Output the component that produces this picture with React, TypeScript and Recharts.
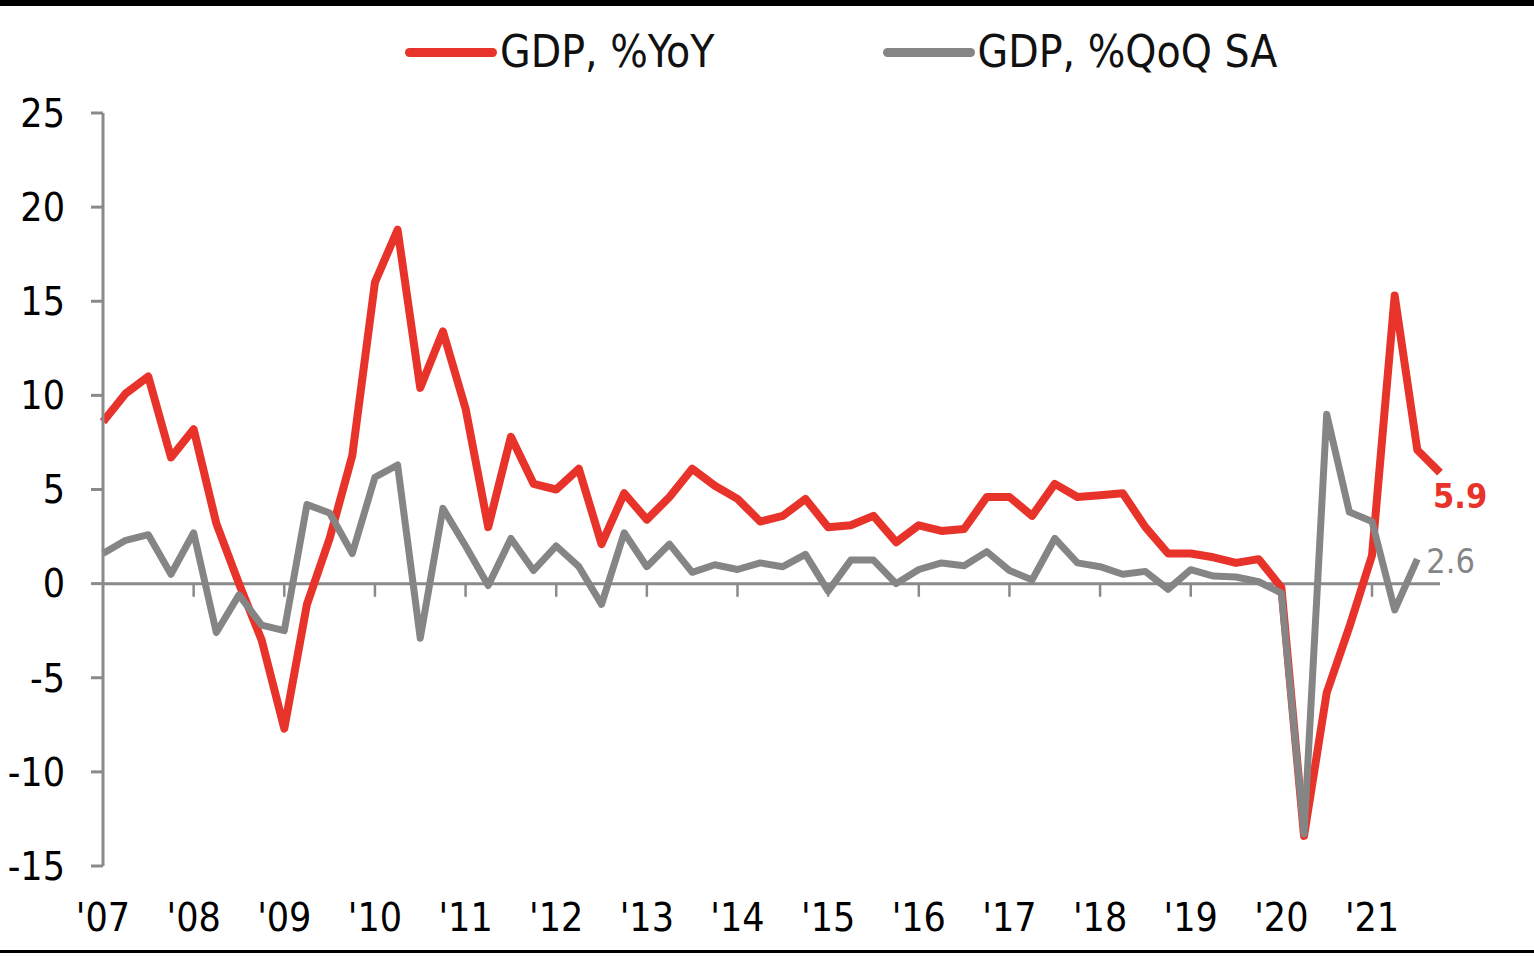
import { Line, LineChart, ReferenceLine, XAxis, YAxis } from 'recharts';

// quarterly GDP, 2007Q1 .. 2021Q4
const YEARS = ['07', '08', '09', '10', '11', '12', '13', '14', '15', '16', '17', '18', '19', '20', '21'];
const QUARTERS = YEARS.flatMap((y) => ['Q1', 'Q2', 'Q3', 'Q4'].map((q) => `${q}-${y}`));

const GDP_YOY = [
  8.6, 10.1, 11.0, 6.7, 8.2, 3.2, 0.0, -3.0, -7.7, -1.1, 2.4, 6.8, 16.0, 18.8, 10.4, 13.4,
  9.3, 3.0, 7.8, 5.3, 5.0, 6.1, 2.1, 4.8, 3.4, 4.6, 6.1, 5.2, 4.5, 3.3, 3.6, 4.5,
  3.0, 3.1, 3.6, 2.2, 3.1, 2.8, 2.9, 4.6, 4.6, 3.6, 5.3, 4.6, 4.7, 4.8, 3.0, 1.6,
  1.6, 1.4, 1.1, 1.3, -0.2, -13.4, -5.8, -2.3, 1.5, 15.3, 7.1, 5.9,
];
const GDP_QOQ: (number | null)[] = [
  1.6, 2.3, 2.6, 0.5, 2.7, -2.6, -0.6, -2.2, -2.5, 4.2, 3.75, 1.6, 5.65, 6.3, -2.9, 4.0,
  2.0, -0.1, 2.4, 0.7, 2.0, 0.9, -1.1, 2.7, 0.9, 2.1, 0.6, 1.0, 0.75, 1.1, 0.9, 1.55,
  -0.4, 1.25, 1.25, 0.0, 0.75, 1.1, 0.95, 1.7, 0.7, 0.2, 2.4, 1.1, 0.9, 0.5, 0.65, -0.3,
  0.74, 0.4, 0.35, 0.1, -0.5, -13.3, 9.0, 3.8, 3.3, -1.4, 1.3, null,
];

const Y_TICKS = [-15, -10, -5, 0, 5, 10, 15, 20, 25];
const YEAR_TICKS = YEARS.map((y) => `Q1-${y}`);
const END_LABEL_YOY = '5.9';
const END_LABEL_QOQ = '2.6';

const RED = '#e8332a';
const GREY = '#858585';
const AXIS = '#8a8a8a';
const FONT = "'DejaVu Sans Condensed', 'Open Sans', sans-serif";

const data = QUARTERS.map((q, i) => ({ q, yoy: GDP_YOY[i], qoq: GDP_QOQ[i] }));
const lastYoy = GDP_YOY.length - 1;
const lastQoq = GDP_QOQ.reduce<number>((acc, v, i) => (v == null ? acc : i), 0);

function LegendItem({ color, text }: { color: string; text: string }) {
  return (
    <div style={{ display: 'flex', alignItems: 'center' }}>
      <div style={{ width: 92, height: 9, borderRadius: 5, background: color }} />
      <span style={{ fontSize: 44, color: '#111', lineHeight: 1, marginLeft: 3 }}>{text}</span>
    </div>
  );
}

export default function App() {
  return (
    <div
      style={{
        position: 'absolute',
        left: 0,
        top: 0,
        width: 1534,
        height: 956,
        background: '#fff',
        fontFamily: FONT,
        overflow: 'hidden',
      }}
    >
      <div style={{ position: 'absolute', left: 0, top: 0, width: 1534, height: 6, background: '#000' }} />
      <div style={{ position: 'absolute', left: 0, top: 950, width: 1534, height: 3, background: '#000' }} />
      <div style={{ position: 'absolute', left: 405, top: 30, display: 'flex', gap: 168 }}>
        <LegendItem color={RED} text="GDP, %YoY" />
        <LegendItem color={GREY} text="GDP, %QoQ SA" />
      </div>
      <LineChart
        width={1534}
        height={956}
        data={data}
        margin={{ top: 113, right: 94, left: 0, bottom: 30 }}
      >
        <XAxis
          dataKey="q"
          ticks={YEAR_TICKS}
          interval={0}
          tickFormatter={(v: string) => `'${v.slice(3)}`}
          axisLine={false}
          tickLine={false}
          tickSize={0}
          tickMargin={37}
          height={60}
          tick={{ fill: '#000', fontSize: 39, fontFamily: FONT }}
        />
        <YAxis
          domain={[-15, 25]}
          ticks={Y_TICKS}
          width={103}
          axisLine={{ stroke: AXIS, strokeWidth: 3 }}
          tickLine={{ stroke: AXIS, strokeWidth: 3 }}
          tickSize={12}
          tickMargin={26}
          tick={{ fill: '#000', fontSize: 39, fontFamily: FONT }}
        />
        <ReferenceLine y={0} stroke={AXIS} strokeWidth={3} />
        {YEAR_TICKS.slice(1).map((t) => (
          <ReferenceLine
            key={t}
            segment={[
              { x: t, y: 0 },
              { x: t, y: -0.7 },
            ]}
            stroke={AXIS}
            strokeWidth={2.5}
          />
        ))}
        <Line
          dataKey="yoy"
          type="linear"
          stroke={RED}
          strokeWidth={8}
          strokeLinejoin="round"
          dot={false}
          isAnimationActive={false}
          label={(p: any) =>
            p.index === lastYoy ? (
              <text
                key="lbl-yoy"
                x={p.x - 7}
                y={p.y + 23}
                dy="0.36em"
                fill={RED}
                fontSize={34}
                fontWeight="bold"
                fontFamily={FONT}
              >
                {END_LABEL_YOY}
              </text>
            ) : (
              <g key={`e${p.index}`} />
            )
          }
        />
        <Line
          dataKey="qoq"
          type="linear"
          stroke={GREY}
          strokeWidth={7}
          strokeLinejoin="round"
          dot={false}
          connectNulls={false}
          isAnimationActive={false}
          label={(p: any) =>
            p.index === lastQoq ? (
              <text
                key="lbl-qoq"
                x={p.x + 9}
                y={p.y + 2}
                dy="0.36em"
                fill={GREY}
                fontSize={34}
                fontFamily={FONT}
              >
                {END_LABEL_QOQ}
              </text>
            ) : (
              <g key={`g${p.index}`} />
            )
          }
        />
      </LineChart>
    </div>
  );
}
